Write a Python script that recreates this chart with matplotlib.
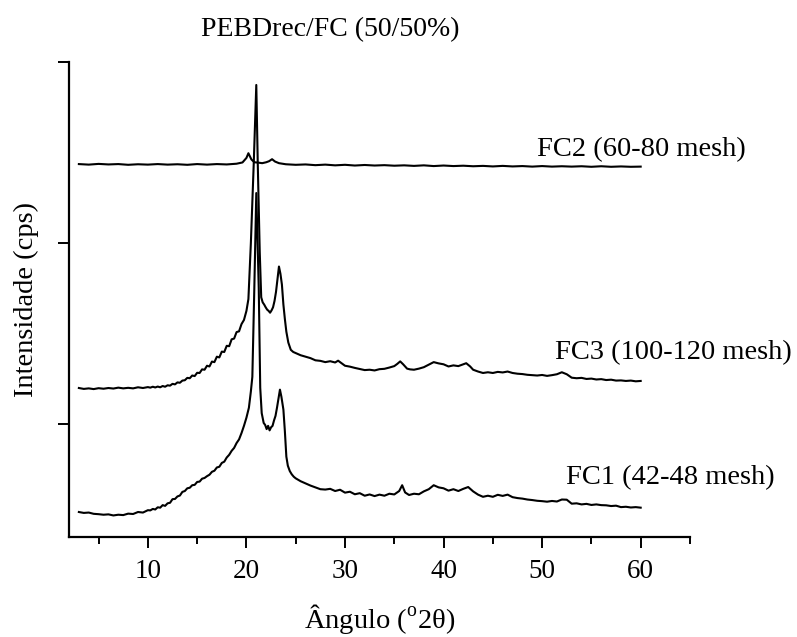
"""
DRX - PEBDrec/FC (50/50%) para tres granulometrias de fibra
"""

import matplotlib
matplotlib.use("Agg")
import matplotlib.pyplot as plt
from matplotlib.ticker import MultipleLocator

plt.rcParams["font.family"] = "Liberation Serif"
plt.rcParams["mathtext.fontset"] = "custom"
plt.rcParams["mathtext.rm"] = "Liberation Serif"

# -----------------------------------------------------------
ang_fc1 = [3.0, 3.5, 4.0, 4.5, 5.0, 5.5, 6.0, 6.5, 7.0, 7.5, 8.0, 8.5, 9.0, 9.5, 10.0,
           10.25, 10.5, 10.75, 11.0, 11.25, 11.5, 11.75, 12.0, 12.25, 12.5, 12.75, 13.0,
           13.25, 13.5, 13.75, 14.0, 14.25, 14.5, 14.75, 15.0, 15.25, 15.5, 15.75, 16.0,
           16.25, 16.5, 16.75, 17.0, 17.25, 17.5, 17.75, 18.0, 18.25, 18.5, 18.75, 19.0,
           19.25, 19.5, 19.75, 20.0, 20.25,
           20.45, 20.6, 20.8, 21.0, 21.25, 21.4, 21.55, 21.75, 21.9, 22.05, 22.2, 22.35,
           22.5, 22.65, 22.8, 22.95, 23.1, 23.25, 23.4, 23.55, 23.75, 23.9, 24.05, 24.2,
           24.4, 24.6, 24.8,
           25.0, 25.5, 26.0, 26.5, 27.0, 27.5, 28.0, 28.5, 29.0, 29.5, 30.0, 30.5, 31.0,
           31.5, 32.0, 32.5, 33.0, 33.5, 34.0, 34.5, 35.0, 35.5, 35.8, 36.1, 36.5, 37.0,
           37.5, 38.0, 38.5, 39.0, 39.5, 40.0, 40.5, 41.0, 41.5, 42.0, 42.5, 43.0, 43.5,
           44.0, 44.5, 45.0, 45.5, 46.0, 46.5, 47.0, 47.5, 48.0, 48.5, 49.0, 49.5, 50.0,
           50.5, 51.0, 51.5, 52.0, 52.5, 53.0, 53.5, 54.0, 54.5, 55.0, 55.5, 56.0, 56.5,
           57.0, 57.5, 58.0, 58.5, 59.0, 59.5, 60.0]
int_fc1 = [514, 509, 511, 504, 502, 499, 501, 495, 499, 497, 505, 503, 514, 511, 524,
           523, 531, 528, 540, 538, 552, 548, 562, 565, 585, 586, 600,
           605, 625, 630, 645, 648, 662, 664, 680, 682, 698, 702, 712,
           720, 736, 742, 760, 764, 785, 792, 815, 830, 852, 868, 895,
           915, 950, 990, 1035, 1090,
           1180, 1261, 1750, 2276, 1750, 1200, 1060, 1006, 995, 972, 990, 965,
           982, 990, 1020, 1045, 1090, 1140, 1190, 1150, 1080, 960, 820, 770,
           740, 722, 709,
           700, 684, 672, 660, 650, 640, 638, 642, 630, 637, 621, 626, 612,
           618, 604, 611, 602, 610, 604, 615, 611, 630, 662, 622, 608, 615,
           612, 628, 640, 662, 650, 645, 632, 640, 630, 642, 652, 628, 610,
           598, 604, 598, 609, 603, 610, 596, 591, 588, 583, 580, 576, 574,
           571, 575, 572, 583, 582, 560, 562, 556, 559, 553, 556, 552, 551,
           547, 549, 541, 543, 539, 541, 538]

ang_fc3 = [3.0, 3.5, 4.0, 4.5, 5.0, 5.5, 6.0, 6.5, 7.0, 7.5, 8.0, 8.5, 9.0, 9.5, 10.0,
           10.25, 10.5, 10.75, 11.0, 11.25, 11.5, 11.75, 12.0, 12.25, 12.5, 12.75, 13.0,
           13.25, 13.5, 13.75, 14.0, 14.25, 14.5, 14.75, 15.0, 15.25, 15.5, 15.75, 16.0,
           16.25, 16.5, 16.75, 17.0, 17.25, 17.5, 17.75, 18.0, 18.25, 18.5, 18.75, 19.0,
           19.25, 19.5, 19.75, 20.0,
           20.2, 20.45, 20.74, 21.0, 21.15, 21.35, 21.5, 21.65, 21.8, 21.95, 22.1, 22.25,
           22.4, 22.55, 22.7, 22.85, 23.0, 23.15, 23.3, 23.45, 23.6, 23.75, 23.9, 24.05,
           24.25, 24.5, 24.75,
           25.0, 25.5, 26.0, 26.5, 27.0, 27.5, 28.0, 28.5, 29.0, 29.3, 29.6, 30.0, 30.5,
           31.0, 31.5, 32.0, 32.5, 33.0, 33.5, 34.0, 34.5, 35.0, 35.3, 35.6, 35.9, 36.3,
           36.6, 37.0, 37.5, 38.0, 38.5, 39.0, 39.5, 40.0, 40.5, 41.0, 41.5, 42.0, 42.3,
           42.7, 43.0, 43.5, 44.0, 44.5, 45.0, 45.5, 46.0, 46.5, 47.0, 47.5, 48.0, 48.5,
           49.0, 49.5, 50.0, 50.5, 51.0, 51.5, 52.0, 52.5, 53.0, 53.5, 54.0, 54.5, 55.0,
           55.5, 56.0, 56.5, 57.0, 57.5, 58.0, 58.5, 59.0, 59.5, 60.0]
int_fc3 = [1199, 1194, 1197, 1193, 1198, 1195, 1199, 1196, 1201, 1197, 1200, 1197, 1203, 1199, 1204,
           1201, 1206, 1202, 1207, 1203, 1210, 1206, 1214, 1212, 1222, 1219, 1230,
           1228, 1240, 1242, 1255, 1253, 1268, 1265, 1283, 1282, 1302, 1300, 1322,
           1318, 1345, 1342, 1372, 1368, 1400, 1398, 1432, 1430, 1468, 1472, 1508,
           1512, 1552, 1575, 1625,
           1690, 2000, 2437, 2873, 2437, 1950, 1700, 1672, 1660, 1645, 1632, 1625,
           1615, 1628, 1645, 1680, 1730, 1800, 1870, 1830, 1770, 1660, 1580, 1510,
           1450, 1410, 1398,
           1392, 1380, 1372, 1364, 1352, 1349, 1342, 1347, 1340, 1350, 1338, 1322, 1317,
           1310, 1304, 1298, 1300, 1296, 1303, 1305, 1312, 1320, 1332, 1346, 1330, 1306,
           1302, 1300, 1306, 1314, 1328, 1342, 1335, 1330, 1318, 1324, 1320, 1330, 1336,
           1318, 1300, 1290, 1282, 1286, 1282, 1288, 1285, 1290, 1282, 1278, 1276, 1272,
           1270, 1268, 1271, 1266, 1270, 1275, 1286, 1275, 1256, 1253, 1255, 1249, 1251,
           1246, 1248, 1243, 1245, 1240, 1241, 1238, 1240, 1236, 1238]

ang_fc2 = [3, 4, 5, 6, 7, 8, 9, 10, 11, 12, 13, 14, 15, 16, 17, 18, 19, 19.6, 20.0, 20.2,
           20.5, 20.8, 21.2, 21.6, 22.0, 22.3, 22.6, 22.9, 23.3, 24, 25, 26, 27, 28, 29,
           30, 31, 32, 33, 34, 35, 36, 37, 38, 39, 40, 41, 42, 43, 44, 45, 46, 47, 48, 49,
           50, 51, 52, 53, 54, 55, 56, 57, 58, 59, 60]
int_fc2 = [2436, 2433, 2437, 2434, 2436, 2432, 2435, 2433, 2436, 2433, 2435, 2432, 2436,
           2433, 2436, 2434, 2438, 2445, 2470, 2496, 2462, 2446, 2444, 2441, 2446, 2452,
           2463, 2450, 2441, 2435, 2432, 2434, 2430, 2433, 2429, 2432, 2428, 2431, 2428,
           2430, 2427, 2429, 2426, 2429, 2425, 2428, 2425, 2427, 2424, 2426, 2423, 2426,
           2423, 2425, 2422, 2425, 2422, 2424, 2422, 2424, 2421, 2424, 2421, 2423, 2421,
           2422]

rotulos = ["FC1 (42-48 mesh)", "FC3 (100-120 mesh)", "FC2 (60-80 mesh)"]
pos_rotulos = [(52.4, 702), (51.3, 1392), (49.45, 2514)]

# figura
# -------
fig = plt.figure(figsize=(7.97, 6.37), dpi=100)
ax = fig.add_axes([0.0866, 0.157, 0.7791, 0.7457])

for ang, inten in [(ang_fc1, int_fc1), (ang_fc3, int_fc3), (ang_fc2, int_fc2)]:
    ax.plot(ang, inten, color="black", lw=1.5)

for txt, (xt, yt) in zip(rotulos, pos_rotulos):
    ax.text(xt, yt, txt, fontsize=20.5, ha="left", va="center", clip_on=False)

ax.set_xlim(2, 65)
ax.set_ylim(376, 3000)
ax.xaxis.set_major_locator(MultipleLocator(10))
ax.xaxis.set_minor_locator(MultipleLocator(5))
ax.set_yticks([1000, 2000, 3000])
ax.set_yticklabels([])
ax.set_xticks([10, 20, 30, 40, 50, 60])
ax.tick_params(axis="x", labelsize=19.5, pad=8)
ax.tick_params(which="major", length=8, width=1.4)
ax.tick_params(which="minor", length=5, width=1.4)
ax.spines["top"].set_visible(False)
ax.spines["right"].set_visible(False)
for s in ["left", "bottom"]:
    ax.spines[s].set_linewidth(1.6)

ax.set_xlabel(r"Ângulo ($^{\rm o}$2θ)", fontsize=20.5, labelpad=13)
ax.set_ylabel("Intensidade (cps)", fontsize=20.5, labelpad=10)
fig.text(0.414, 0.953, "PEBDrec/FC (50/50%)", fontsize=20, ha="center", va="center")

fig.savefig("out.png", dpi=100)
